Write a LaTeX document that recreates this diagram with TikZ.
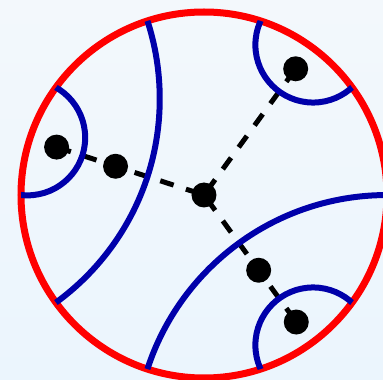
\documentclass[tikz,border=0pt]{standalone}
\usetikzlibrary{backgrounds}
\definecolor{geoblue}{RGB}{0,0,170}
\definecolor{bgtop}{RGB}{243,248,252}
\definecolor{bgbot}{RGB}{235,245,253}
\begin{document}
\begin{tikzpicture}[
  x=1pt, y=1pt,
  rim/.style={draw=red, line width=7pt},
  geo/.style={draw=geoblue, line width=6pt},
  vtx/.style={circle, fill=black, inner sep=0pt, minimum size=25pt},
  link/.style={draw=black, line width=5pt, dash pattern=on 14pt off 13pt, dash phase=22pt}
]
\useasboundingbox (-204,-185) rectangle (179,195);
\node[vtx] (c) at (0,0) {};
\node[vtx] (l1) at (162:93) {};
\node[vtx] (l2) at (162:155) {};
\node[vtx] (u2) at (54:156) {};
\node[vtx] (d1) at (-54:93) {};
\node[vtx] (d2) at (-54:157) {};
\begin{scope}[on background layer]
  \fill[top color=bgtop, bottom color=bgbot] (-204,-185) rectangle (179,195);
  \draw[rim] (0,0) circle (183);
  \draw[link] (c.center) -- (l1.center) -- (l2.center);
  \draw[link] (c.center) -- (u2.center);
  \draw[link] (c.center) -- (d1.center) -- (d2.center);
\end{scope}
\begin{scope}
  \clip (0,0) circle (183);
  \draw[geo] (162:311.3) circle (251.8);
  \draw[geo] (-54:311.3) circle (251.8);
  \foreach \a in {54,162,-54}
    \draw[geo] (\a:185.6) circle (57.7);
\end{scope}
\end{tikzpicture}
\end{document}
